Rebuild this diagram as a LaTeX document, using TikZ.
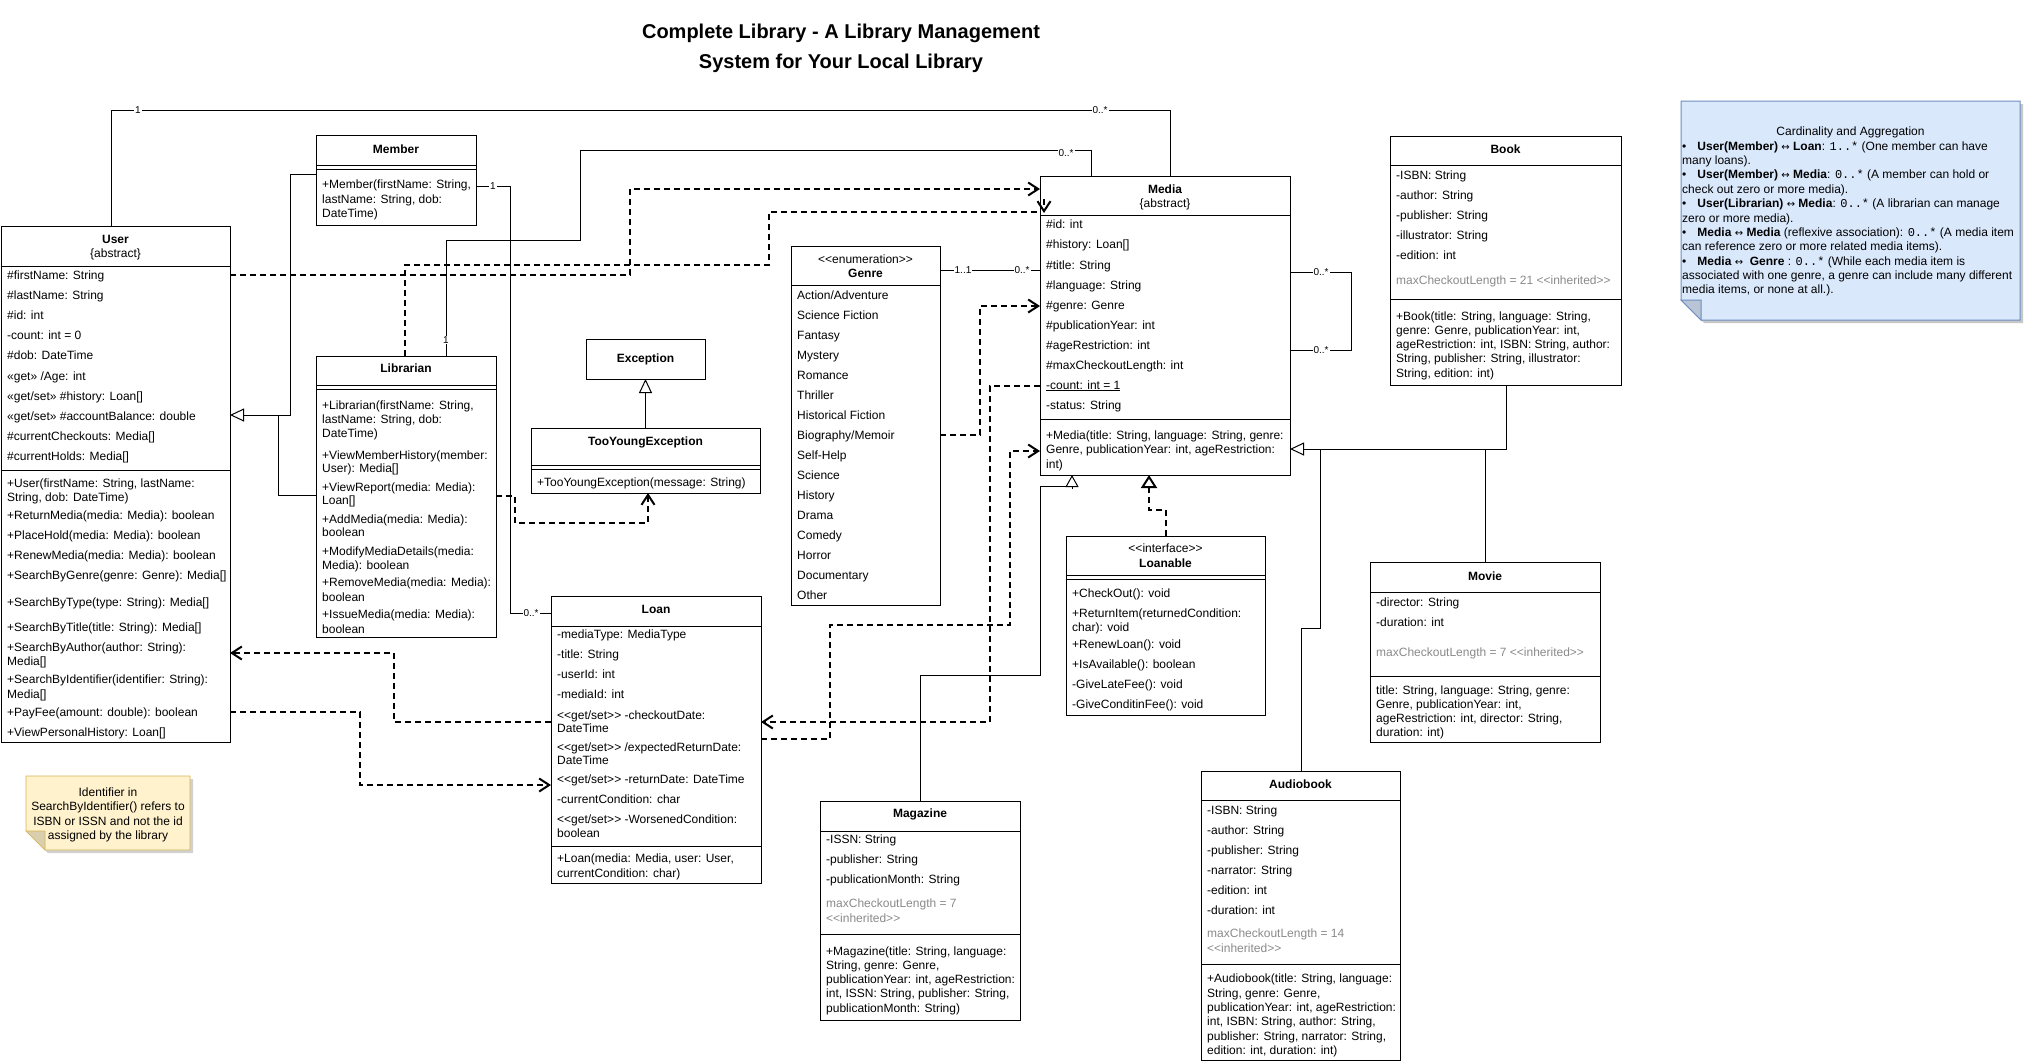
\documentclass[tikz,border=0pt]{standalone}
\usepackage{fontspec}
\setmainfont{Liberation Sans}
\setmonofont{Liberation Mono}
\newfontfamily\arrowfont{DejaVu Sans}
\usetikzlibrary{arrows.meta}
\definecolor{inhgray}{HTML}{8A8A8A}
\definecolor{noteblue}{HTML}{DAE8FC}
\definecolor{noteblueline}{HTML}{6C8EBF}
\definecolor{noteyellow}{HTML}{FFF2CC}
\definecolor{noteyellowline}{HTML}{D6B656}
\newcommand{\bothway}{{\arrowfont\fontsize{10}{12}\selectfont ↔}}
\newcommand{\stOpen}{<\kern0pt<}
\newcommand{\stClose}{>\kern0pt>}
\begin{document}
\begin{tikzpicture}[x=1pt,y=-1pt,font=\fontsize{12}{14}\selectfont,
  cls/.style={draw,line width=1pt,inner sep=0pt,outer sep=0pt,anchor=north west,fill=white},
  txt/.style={anchor=base west,inner sep=0pt,yshift=-4pt},
  hd/.style={anchor=base,inner sep=0pt,yshift=-4pt,font=\fontsize{12}{14}\selectfont\bfseries},
  sub/.style={anchor=base,inner sep=0pt,yshift=-4pt},
  inh/.style={txt,text=inhgray},
  mult/.style={font=\fontsize{10}{12}\selectfont,fill=white,inner sep=1pt},
  assoc/.style={line width=1pt},
  gen/.style={line width=1pt,-{Triangle[open,length=14pt,width=13pt]}},
  gensmall/.style={line width=1pt,-{Triangle[open,length=12pt,width=13pt]}},
  dep/.style={line width=2pt,dash pattern=on 6pt off 4pt,-{Straight Barb[length=10pt,width=13pt]}},
  real/.style={line width=2pt,dash pattern=on 6pt off 4pt,-{Triangle[open,length=13pt,width=16pt]}}]

\useasboundingbox (0,0) rectangle (2028,1061);

\node[font=\fontsize{20}{24}\selectfont\bfseries,anchor=base,inner sep=0pt] (title1) at (841,38) {Complete Library - A Library Management};
\node[font=\fontsize{20}{24}\selectfont\bfseries,anchor=base,inner sep=0pt] (title2) at (841,68) {System for Your Local Library};

\node[cls,minimum width=229pt,minimum height=516pt] (user) at (1,226) {};
\draw (user.west |- 0,266) -- (user.east |- 0,266);
\draw (user.west |- 0,470) -- (user.east |- 0,470);
\node[hd] (u0) at (115.5,239.5) {User};
\node[sub] (u00) at (115.5,253) {\{abstract\}};
\node[txt] (ua1) at (7,275) {\#firstName: String};
\node[txt] (ua2) at (7,295) {\#lastName: String};
\node[txt] (ua3) at (7,315) {\#id: int};
\node[txt] (ua4) at (7,335) {-count: int = 0};
\node[txt] (ua5) at (7,355) {\#dob: DateTime};
\node[txt] (ua6) at (7,376) {«get» /Age: int};
\node[txt] (ua7) at (7,396) {«get/set» \#history: Loan[]};
\node[txt] (ua8) at (7,416) {«get/set» \#accountBalance: double};
\node[txt] (ua9) at (7,436) {\#currentCheckouts: Media[]};
\node[txt] (ua10) at (7,456) {\#currentHolds: Media[]};
\node[txt] (um1) at (7,483) {+User(firstName: String, lastName:};
\node[txt] (um1b) at (7,497) {String, dob: DateTime)};
\node[txt] (um2) at (7,515) {+ReturnMedia(media: Media): boolean};
\node[txt] (um3) at (7,535) {+PlaceHold(media: Media): boolean};
\node[txt] (um4) at (7,555) {+RenewMedia(media: Media): boolean};
\node[txt] (um5) at (7,575) {+SearchByGenre(genre: Genre): Media[]};
\node[txt] (um6) at (7,602) {+SearchByType(type: String): Media[]};
\node[txt] (um7) at (7,627) {+SearchByTitle(title: String): Media[]};
\node[txt] (um8) at (7,647) {+SearchByAuthor(author: String):};
\node[txt] (um8b) at (7,661) {Media[]};
\node[txt] (um9) at (7,679) {+SearchByIdentifier(identifier: String):};
\node[txt] (um9b) at (7,694) {Media[]};
\node[txt] (um10) at (7,712) {+PayFee(amount: double): boolean};
\node[txt] (um11) at (7,732) {+ViewPersonalHistory: Loan[]};

\node[cls,minimum width=160pt,minimum height=90pt] (member) at (316,135) {};
\draw (member.west |- 0,165) -- (member.east |- 0,165);
\draw (member.west |- 0,169) -- (member.east |- 0,169);
\node[hd] (mb0) at (396,149) {Member};
\node[txt] (mb1) at (322,184) {+Member(firstName: String,};
\node[txt] (mb2) at (322,199) {lastName: String, dob:};
\node[txt] (mb3) at (322,213) {DateTime)};

\node[cls,minimum width=180pt,minimum height=281pt] (lib) at (316,356) {};
\draw (lib.west |- 0,385) -- (lib.east |- 0,385);
\draw (lib.west |- 0,389) -- (lib.east |- 0,389);
\node[hd] (lb0) at (406,368.5) {Librarian};
\node[txt] (lb1) at (322,405) {+Librarian(firstName: String,};
\node[txt] (lb1b) at (322,419) {lastName: String, dob:};
\node[txt] (lb1c) at (322,433) {DateTime)};
\node[txt] (lb2) at (322,455) {+ViewMemberHistory(member:};
\node[txt] (lb2b) at (322,468) {User): Media[]};
\node[txt] (lb3) at (322,487) {+ViewReport(media: Media):};
\node[txt] (lb3b) at (322,500) {Loan[]};
\node[txt] (lb4) at (322,519) {+AddMedia(media: Media):};
\node[txt] (lb4b) at (322,532) {boolean};
\node[txt] (lb5) at (322,551) {+ModifyMediaDetails(media:};
\node[txt] (lb5b) at (322,565) {Media): boolean};
\node[txt] (lb6) at (322,582) {+RemoveMedia(media: Media):};
\node[txt] (lb6b) at (322,597) {boolean};
\node[txt] (lb7) at (322,614) {+IssueMedia(media: Media):};
\node[txt] (lb7b) at (322,629) {boolean};

\node[cls,minimum width=119pt,minimum height=40pt] (exc) at (586,339) {};
\node[hd] (ex0) at (645.5,358) {Exception};

\node[cls,minimum width=229pt,minimum height=65pt] (tyex) at (531,428) {};
\draw (tyex.west |- 0,465) -- (tyex.east |- 0,465);
\draw (tyex.west |- 0,469) -- (tyex.east |- 0,469);
\node[hd] (ty0) at (645.5,441) {TooYoungException};
\node[txt] (ty1) at (537,482) {+TooYoungException(message: String)};

\node[cls,minimum width=149pt,minimum height=359pt] (genre) at (791,246) {};
\draw (genre.west |- 0,285) -- (genre.east |- 0,285);
\node[sub] (gn00) at (865.5,259) {\stOpen enumeration\stClose};
\node[hd] (gn0) at (865.5,273) {Genre};
\node[txt] (gn1) at (797,295) {Action/Adventure};
\node[txt] (gn2) at (797,315) {Science Fiction};
\node[txt] (gn3) at (797,335) {Fantasy};
\node[txt] (gn4) at (797,355) {Mystery};
\node[txt] (gn5) at (797,375) {Romance};
\node[txt] (gn6) at (797,395) {Thriller};
\node[txt] (gn7) at (797,415) {Historical Fiction};
\node[txt] (gn8) at (797,435) {Biography/Memoir};
\node[txt] (gn9) at (797,455) {Self-Help};
\node[txt] (gn10) at (797,475) {Science};
\node[txt] (gn11) at (797,495) {History};
\node[txt] (gn12) at (797,515) {Drama};
\node[txt] (gn13) at (797,535) {Comedy};
\node[txt] (gn14) at (797,555) {Horror};
\node[txt] (gn15) at (797,575) {Documentary};
\node[txt] (gn16) at (797,595) {Other};

\node[cls,minimum width=250pt,minimum height=299pt] (media) at (1040,176) {};
\draw (media.west |- 0,215) -- (media.east |- 0,215);
\draw (media.west |- 0,419) -- (media.east |- 0,419);
\node[hd] (md0) at (1165,189) {Media};
\node[sub] (md00) at (1165,203) {\{abstract\}};
\node[txt] (md1) at (1046,224) {\#id: int};
\node[txt] (md2) at (1046,244) {\#history: Loan[]};
\node[txt] (md3) at (1046,265) {\#title: String};
\node[txt] (md4) at (1046,285) {\#language: String};
\node[txt] (md5) at (1046,305) {\#genre: Genre};
\node[txt] (md6) at (1046,325) {\#publicationYear: int};
\node[txt] (md7) at (1046,345) {\#ageRestriction: int};
\node[txt] (md8) at (1046,365) {\#maxCheckoutLength: int};
\node[txt] (md9) at (1046,385) {\underline{-count: int = 1}};
\node[txt] (md10) at (1046,405) {-status: String};
\node[txt] (md11) at (1046,435) {+Media(title: String, language: String, genre:};
\node[txt] (md11b) at (1046,449) {Genre, publicationYear: int, ageRestriction:};
\node[txt] (md11c) at (1046,464) {int)};

\node[cls,minimum width=231pt,minimum height=249pt] (book) at (1390,136) {};
\draw (book.west |- 0,165) -- (book.east |- 0,165);
\draw (book.west |- 0,299) -- (book.east |- 0,299);
\node[hd] (bk0) at (1505.5,149) {Book};
\node[txt] (bk1) at (1396,175) {-ISBN: String};
\node[txt] (bk2) at (1396,195) {-author: String};
\node[txt] (bk3) at (1396,215) {-publisher: String};
\node[txt] (bk4) at (1396,235) {-illustrator: String};
\node[txt] (bk5) at (1396,255) {-edition: int};
\node[inh] (bk6) at (1396,280) {maxCheckoutLength = 21 \stOpen inherited\stClose};
\node[txt] (bk7) at (1396,316) {+Book(title: String, language: String,};
\node[txt] (bk7b) at (1396,330) {genre: Genre, publicationYear: int,};
\node[txt] (bk7c) at (1396,344) {ageRestriction: int, ISBN: String, author:};
\node[txt] (bk7d) at (1396,358) {String, publisher: String, illustrator:};
\node[txt] (bk7e) at (1396,373) {String, edition: int)};

\node[cls,minimum width=199pt,minimum height=179pt] (loanable) at (1066,536) {};
\draw (loanable.west |- 0,575) -- (loanable.east |- 0,575);
\draw (loanable.west |- 0,579) -- (loanable.east |- 0,579);
\node[sub] (lo00) at (1165.5,548) {\stOpen interface\stClose};
\node[hd] (lo0) at (1165.5,563) {Loanable};
\node[txt] (lo1) at (1072,593) {+CheckOut(): void};
\node[txt] (lo2) at (1072,613) {+ReturnItem(returnedCondition:};
\node[txt] (lo2b) at (1072,627) {char): void};
\node[txt] (lo3) at (1072,644) {+RenewLoan(): void};
\node[txt] (lo4) at (1072,664) {+IsAvailable(): boolean};
\node[txt] (lo5) at (1072,684) {-GiveLateFee(): void};
\node[txt] (lo6) at (1072,704) {-GiveConditinFee(): void};

\node[cls,minimum width=210pt,minimum height=287pt] (loan) at (551,596) {};
\draw (loan.west |- 0,626) -- (loan.east |- 0,626);
\draw (loan.west |- 0,846) -- (loan.east |- 0,846);
\node[hd] (ln0) at (656,609) {Loan};
\node[txt] (ln1) at (557,634) {-mediaType: MediaType};
\node[txt] (ln2) at (557,654) {-title: String};
\node[txt] (ln3) at (557,674) {-userId: int};
\node[txt] (ln4) at (557,694) {-mediaId: int};
\node[txt] (ln5) at (557,715) {\stOpen get/set\stClose{} -checkoutDate:};
\node[txt] (ln5b) at (557,728) {DateTime};
\node[txt] (ln6) at (557,747) {\stOpen get/set\stClose{} /expectedReturnDate:};
\node[txt] (ln6b) at (557,760) {DateTime};
\node[txt] (ln7) at (557,779) {\stOpen get/set\stClose{} -returnDate: DateTime};
\node[txt] (ln8) at (557,799) {-currentCondition: char};
\node[txt] (ln9) at (557,819) {\stOpen get/set\stClose{} -WorsenedCondition:};
\node[txt] (ln9b) at (557,833) {boolean};
\node[txt] (ln10) at (557,858) {+Loan(media: Media, user: User,};
\node[txt] (ln10b) at (557,873) {currentCondition: char)};

\node[cls,minimum width=200pt,minimum height=219pt] (mag) at (820,801) {};
\draw (mag.west |- 0,831) -- (mag.east |- 0,831);
\draw (mag.west |- 0,934) -- (mag.east |- 0,934);
\node[hd] (mg0) at (920,813) {Magazine};
\node[txt] (mg1) at (826,839) {-ISSN: String};
\node[txt] (mg2) at (826,859) {-publisher: String};
\node[txt] (mg3) at (826,879) {-publicationMonth: String};
\node[inh] (mg4) at (826,903) {maxCheckoutLength = 7};
\node[inh] (mg4b) at (826,918) {\stOpen inherited\stClose};
\node[txt] (mg5) at (826,951) {+Magazine(title: String, language:};
\node[txt] (mg5b) at (826,965) {String, genre: Genre,};
\node[txt] (mg5c) at (826,979) {publicationYear: int, ageRestriction:};
\node[txt] (mg5d) at (826,993) {int, ISSN: String, publisher: String,};
\node[txt] (mg5e) at (826,1008) {publicationMonth: String)};

\node[cls,minimum width=230pt,minimum height=180pt] (movie) at (1370,562) {};
\draw (movie.west |- 0,592) -- (movie.east |- 0,592);
\draw (movie.west |- 0,676) -- (movie.east |- 0,676);
\node[hd] (mv0) at (1485,576) {Movie};
\node[txt] (mv1) at (1376,602) {-director: String};
\node[txt] (mv2) at (1376,622) {-duration: int};
\node[inh] (mv3) at (1376,652) {maxCheckoutLength = 7 \stOpen inherited\stClose};
\node[txt] (mv4) at (1376,690) {title: String, language: String, genre:};
\node[txt] (mv4b) at (1376,704) {Genre, publicationYear: int,};
\node[txt] (mv4c) at (1376,718) {ageRestriction: int, director: String,};
\node[txt] (mv4d) at (1376,732) {duration: int)};

\node[cls,minimum width=199pt,minimum height=289pt] (audio) at (1201,771) {};
\draw (audio.west |- 0,800) -- (audio.east |- 0,800);
\draw (audio.west |- 0,964) -- (audio.east |- 0,964);
\node[hd] (ab0) at (1300.5,784) {Audiobook};
\node[txt] (ab1) at (1207,810) {-ISBN: String};
\node[txt] (ab2) at (1207,830) {-author: String};
\node[txt] (ab3) at (1207,850) {-publisher: String};
\node[txt] (ab4) at (1207,870) {-narrator: String};
\node[txt] (ab5) at (1207,890) {-edition: int};
\node[txt] (ab6) at (1207,910) {-duration: int};
\node[inh] (ab7) at (1207,933) {maxCheckoutLength = 14};
\node[inh] (ab7b) at (1207,948) {\stOpen inherited\stClose};
\node[txt] (ab8) at (1207,978) {+Audiobook(title: String, language:};
\node[txt] (ab8b) at (1207,993) {String, genre: Genre,};
\node[txt] (ab8c) at (1207,1007) {publicationYear: int, ageRestriction:};
\node[txt] (ab8d) at (1207,1021) {int, ISBN: String, author: String,};
\node[txt] (ab8e) at (1207,1036) {publisher: String, narrator: String,};
\node[txt] (ab8f) at (1207,1050) {edition: int, duration: int)};

\fill[black!22] (1684,104) -- (2023,104) -- (2023,323) -- (1704,323) -- (1684,303) -- cycle;
\draw[line width=1pt,draw=noteblueline,fill=noteblue] (1681,101) -- (2020,101) -- (2020,320) -- (1701,320) -- (1681,300) -- cycle;
\draw[line width=1pt,draw=noteblueline,fill=noteblue!85!black] (1681,300) -- (1701,300) -- (1701,320) -- cycle;
\node[sub] (nt0) at (1850.5,131) {Cardinality and Aggregation};
\node[txt] (nt1) at (1682,146) {\textbullet\hspace{11pt}\textbf{User(Member)} \bothway{} \textbf{Loan}: \texttt{1..*} (One member can have};
\node[txt] (nt1b) at (1682,160) {many loans).};
\node[txt] (nt2) at (1682,174) {\textbullet\hspace{11pt}\textbf{User(Member)} \bothway{} \textbf{Media}: \texttt{0..*} (A member can hold or};
\node[txt] (nt2b) at (1682,189) {check out zero or more media).};
\node[txt] (nt3) at (1682,203) {\textbullet\hspace{11pt}\textbf{User(Librarian)} \bothway{} \textbf{Media}: \texttt{0..*} (A librarian can manage};
\node[txt] (nt3b) at (1682,218) {zero or more media).};
\node[txt] (nt4) at (1682,232) {\textbullet\hspace{11pt}\textbf{Media} \bothway{} \textbf{Media} (reflexive association): \texttt{0..*} (A media item};
\node[txt] (nt4b) at (1682,246) {can reference zero or more related media items).};
\node[txt] (nt5) at (1682,261) {\textbullet\hspace{11pt}\textbf{Media} \bothway{}\ \ \textbf{Genre} : \texttt{0..*} (While each media item is};
\node[txt] (nt5b) at (1682,275) {associated with one genre, a genre can include many different};
\node[txt] (nt5c) at (1682,289) {media items, or none at all.).};

\fill[black!18] (29,779) -- (193,779) -- (193,853) -- (48,853) -- (29,834) -- cycle;
\draw[line width=0.6pt,draw=noteyellowline,fill=noteyellow] (26,776) -- (190,776) -- (190,850) -- (45,850) -- (26,831) -- cycle;
\draw[line width=0.6pt,draw=noteyellowline,fill=noteyellow!85!black] (26,831) -- (45,831) -- (45,850) -- cycle;
\node[sub] (yn1) at (108,792) {Identifier in};
\node[sub] (yn2) at (108,806) {SearchByIdentifier() refers to};
\node[sub] (yn3) at (108,821) {ISBN or ISSN and not the id};
\node[sub] (yn4) at (108,835) {assigned by the library};

\draw[assoc] (user.north -| 111,0) -- (111,110) -- (1170,110) -- (media.north -| 1170,0);
\node[mult] (m1) at (138,110) {1};
\node[mult] (m2) at (1100,110) {0..*};
\draw[assoc] (lib.north -| 446,0) -- (446,240) -- (580,240) -- (580,150) -- (1091,150) -- (media.north -| 1091,0);
\node[mult] (m3) at (446,340) {1};
\node[mult] (m4) at (1066,153) {0..*};
\draw[assoc] (member.east |- 0,186) -- (510,186) -- (510,613) -- (loan.west |- 0,613);
\node[mult] (m5) at (493,186) {1};
\node[mult] (m6) at (531,613) {0..*};
\draw[assoc] (genre.east |- 0,270) -- (media.west |- 0,270);
\node[mult] (m7) at (963,270) {1..1};
\node[mult] (m8) at (1022,270) {0..*};
\draw[assoc] (media.east |- 0,272) -- (1351,272) -- (1351,350) -- (media.east |- 0,350);
\node[mult] (m9) at (1321,272) {0..*};
\node[mult] (m10) at (1321,350) {0..*};

\draw[gen] (member.west |- 0,174) -- (290,174) -- (290,415) -- (user.east |- 0,415);
\draw[assoc] (lib.west |- 0,495) -- (278,495) -- (278,415);
\draw[gen] (tyex.north) -- (exc.south);
\draw[gen] (book.south -| 1506,0) -- (1506,449) -- (media.east |- 0,449);
\draw[assoc] (movie.north) -- (1485,449);
\draw[assoc] (audio.north -| 1301,0) -- (1301,628) -- (1320,628) -- (1320,449);
\draw[gensmall] (mag.north) -- (920,675) -- (1040,675) -- (1040,486) -- (1066,486) (1072,489) -- (media.south -| 1072,0);
\draw[real] (loanable.north -| 1166,0) -- (1166,510) -- (1149,510) -- (media.south -| 1149,0);

\draw[dep] (user.east |- 0,275) -- (630,275) -- (630,189) -- (media.west |- 0,189);
\draw[dep] (lib.north -| 405,0) -- (405,265) -- (769,265) -- (769,212) -- (media.west |- 0,212) (1044,199) -- (1044,213);
\draw[dep] (genre.east |- 0,435) -- (980,435) -- (980,306) -- (media.west |- 0,306);
\draw[dep] (media.west |- 0,386) -- (990,386) -- (990,722) -- (loan.east |- 0,722);
\draw[dep] (loan.east |- 0,739) -- (830,739) -- (830,625) -- (1010,625) -- (1010,451) -- (media.west |- 0,451);
\draw[dep] (loan.west |- 0,722) -- (394,722) -- (394,653) -- (user.east |- 0,653);
\draw[dep] (user.east |- 0,712) -- (360,712) -- (360,785) -- (loan.west |- 0,785);
\draw[dep] (lib.east |- 0,496) -- (515,496) -- (515,523) -- (648,523) -- (tyex.south -| 648,0);

\end{tikzpicture}
\end{document}
